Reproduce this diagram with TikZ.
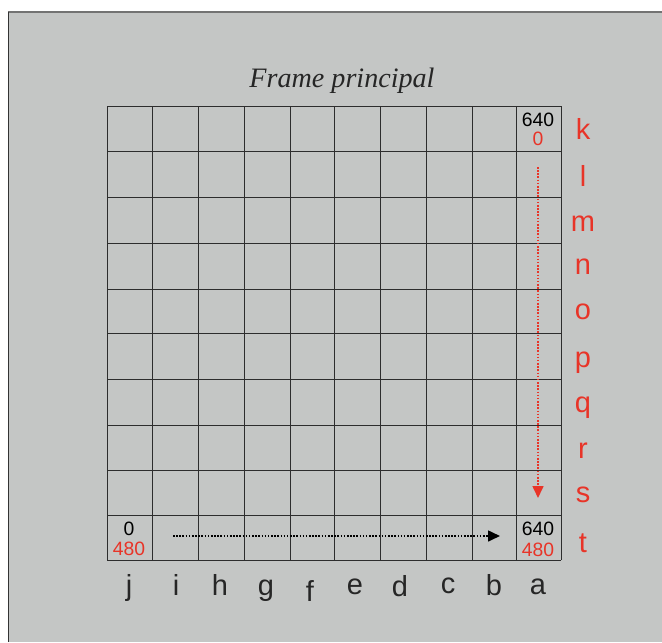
\documentclass[tikz,border=0pt]{standalone}
\usepackage{fontspec}
\setsansfont{Liberation Sans}
\newfontfamily\titlefont{Liberation Serif}
\usetikzlibrary{arrows.meta,positioning}
\definecolor{panelgray}{RGB}{196,198,197}
\definecolor{framered}{RGB}{232,52,40}
\definecolor{gridgray}{RGB}{45,45,45}

\begin{document}
\begin{tikzpicture}[x=0.02cm,y=-0.02cm,
cell/.style={draw=gridgray,line width=0.5pt},
num/.style={font=\sffamily\fontsize{11}{12}\selectfont,inner sep=0pt},
rowlab/.style={font=\sffamily\fontsize{16.5}{18}\selectfont,text=framered,anchor=base,inner sep=0pt},
collab/.style={font=\sffamily\fontsize{16.5}{18}\selectfont,text=black!85,anchor=base,inner sep=0pt},
scan/.style={line width=1pt,dash pattern=on 0.9pt off 0.9pt,-{Triangle[length=6.8pt,width=6.2pt]}}]
\useasboundingbox (0,0) rectangle (662,642);
% Fondo
\fill[white] (0,0) rectangle (662,642);
\fill[panelgray] (8,12) rectangle (662,642);
\draw[black!55,line width=1pt] (8,12)--(662,12);
\draw[black!80,line width=0.9pt] (8.5,12)--(8.5,642);
% Titolo
\node[font=\titlefont\itshape\fontsize{16}{19}\selectfont,text=black!85,anchor=base] (title) at (342,88) {Frame principal};
% Griglia
\foreach \gx in {107,152,198,244,290,334,380,426,472,516,561}
  \draw[cell] (\gx,106)--(\gx,560);
\foreach \gy in {106,151,197,243,289,333,379,425,470,515,560}
  \draw[cell] (107,\gy)--(561,\gy);
% Etichette righe e colonne
\foreach \l/\yb [count=\i] in {k/139,l/186,m/231,n/274,o/319,p/367,q/412,r/458,s/502,t/552}
  \node[rowlab] (row\i) at (583,\yb) {\l};
\foreach \l/\xc/\yb [count=\i] in {j/129/595,i/176/595,h/220/595,g/266/595,f/310/601,e/355/594,d/400/596,c/448/593,b/494/595,a/538/594}
  \node[collab] (col\i) at (\xc,\yb) {\l};
% Valori negli angoli
\node[num] (topx) at (538,120) {640};
\node[num,text=framered] (topy) at (538,139) {0};
\node[num] (blx) at (129,529) {0};
\node[num,text=framered] (bly) at (129,549) {480};
\node[num] (brx) at (538,529) {640};
\node[num,text=framered] (bry) at (538,550) {480};
% Scansione
\coordinate (hstart) at (173,536);
\coordinate (hend) at (500,536);
\coordinate (vstart) at (538,167);
\coordinate (vend) at (538,498);
\draw[scan,black] (hstart)--(hend);
\draw[scan,framered] (vstart)--(vend);
\end{tikzpicture}
\end{document}
